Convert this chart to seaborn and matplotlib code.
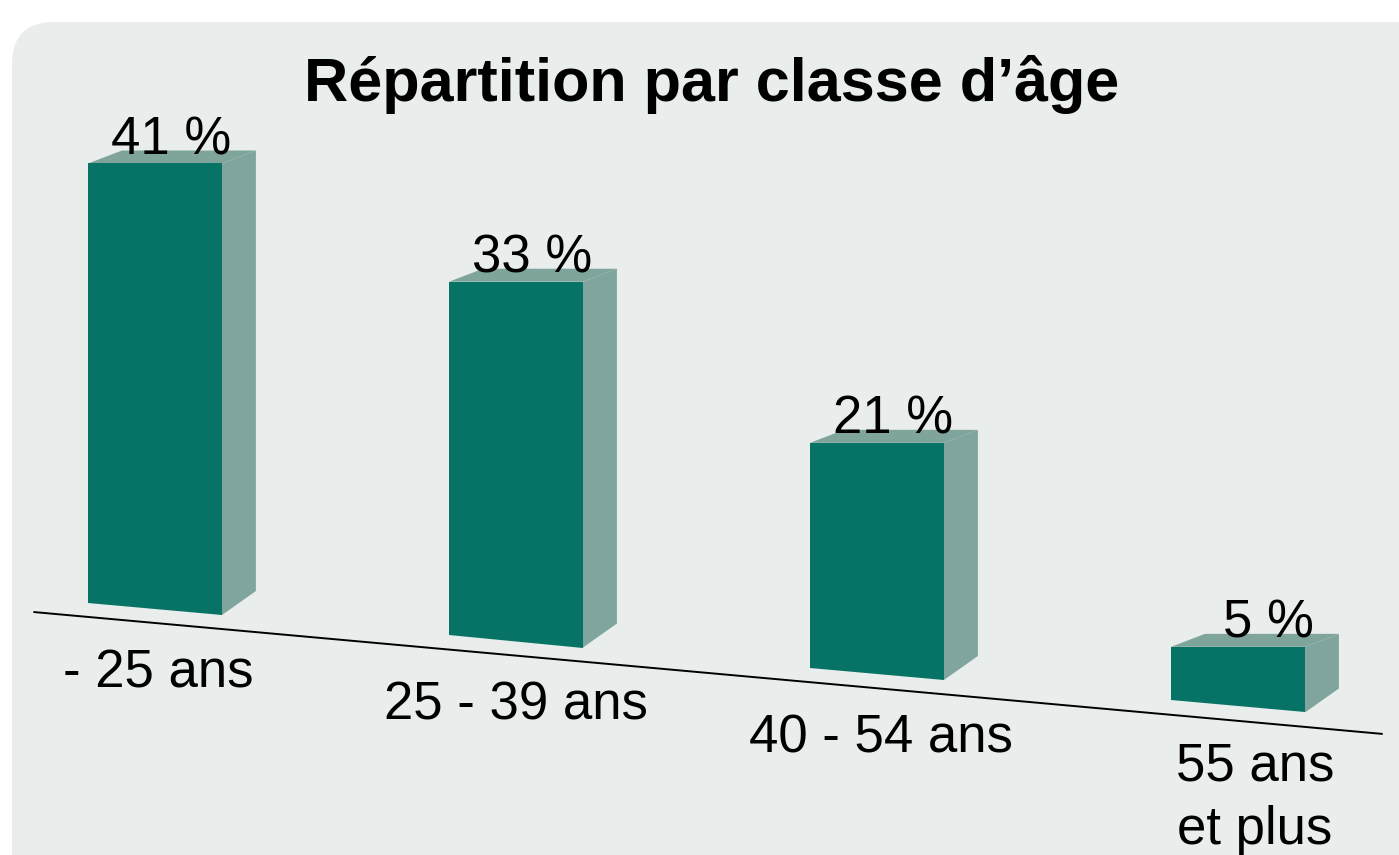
import matplotlib
matplotlib.use("Agg")
import matplotlib.pyplot as plt
from matplotlib.patches import Polygon, FancyBboxPatch
import seaborn as sns

# data
age_groups = ["- 25 ans", "25 - 39 ans", "40 - 54 ans", "55 ans\net plus"]
shares = [41, 33, 21, 5]
value_labels = ["41 %", "33 %", "21 %", "5 %"]
title = "Répartition par classe d’âge"

# colours
front_col = "#077366"
side_col = "#80a59e"
top_col = "#7fa49c"
panel_col = "#e9edec"

sns.set_style("white")
plt.rcParams["font.family"] = ["Liberation Sans", "DejaVu Sans"]
plt.rcParams["text.color"] = "black"

W, H = 1399, 855
fig = plt.figure(figsize=(W / 100, H / 100), dpi=100)
fig.patch.set_facecolor("white")

# rounded grey panel behind the chart
panel = FancyBboxPatch((12 / W, -0.2), 1.2, 1 - 22 / H + 0.2,
                       boxstyle="round,pad=0,rounding_size=0.03",
                       transform=fig.transFigure, facecolor=panel_col,
                       edgecolor="none", mutation_aspect=W / H, zorder=-10)
fig.patches.append(panel)

ax = fig.add_axes([0, 0, 1, 1])
ax.set_facecolor("none")
ax.set_zorder(1)

sns.barplot(x=age_groups, y=shares, ax=ax, color=front_col, saturation=1,
            width=0.371, errorbar=None, linewidth=0, zorder=3)

ax.set_xlim(-155 / 361, (W - 155) / 361)
ax.set_ylim(-23.51, 56.25)
ax.axis("off")

# fake perspective: sloping floor, side and top faces
slope = -3.03          # floor drop per category (in % units)
dx, dy_top, dy_bot = 0.094, 1.21, 2.24
x_ref = ax.patches[0].get_x()


def floor(x):
    return slope * (x - x_ref)


bars = list(ax.patches)
for p, lab in zip(bars, value_labels):
    xl = p.get_x()
    w = p.get_width()
    xr = xl + w
    h = p.get_height()
    bl, br = floor(xl), floor(xr)
    p.set_y(bl)
    top = bl + h
    # sloped bottom wedge of the front face
    ax.add_patch(Polygon([(xl, bl), (xl, bl + 0.3), (xr, bl + 0.3), (xr, br)],
                         closed=True, facecolor=front_col, edgecolor="none", zorder=3))
    # side face
    ax.add_patch(Polygon([(xr, top), (xr + dx, top + dy_top), (xr + dx, br + dy_bot), (xr, br)],
                         closed=True, facecolor=side_col, edgecolor="none", zorder=2))
    # top face
    ax.add_patch(Polygon([(xl, top), (xr, top), (xr + dx, top + dy_top), (xl + dx, top + dy_top)],
                         closed=True, facecolor=top_col, edgecolor="none", zorder=2))
    ax.text(xr + 0.025, top + 0.84, lab, ha="right", va="baseline",
            fontsize=38, color="black", zorder=5)

# floor line
x0, x1 = -0.335, 3.399
ax.plot([x0, x1], [floor(x0) - 1.3, floor(x1) - 1.35], color="black", lw=1.4, zorder=4)

# category labels under the line (baseline = last line, so shift wrapped ones down)
nudge = [0.01, 0.0, 0.01, 0.047]
for i, (lab, n) in enumerate(zip(age_groups, nudge)):
    y = floor(i) - 1.3 - 6.0 - 5.5 * lab.count("\n")
    ax.text(i + n, y, lab, ha="center", va="baseline", fontsize=38,
            linespacing=1.35, color="black", zorder=5)

fig.text(712 / W, 1 - 101 / H, title, ha="center", va="baseline",
         fontsize=44, fontweight="bold", color="black")

fig.savefig("out.png", dpi=100)
